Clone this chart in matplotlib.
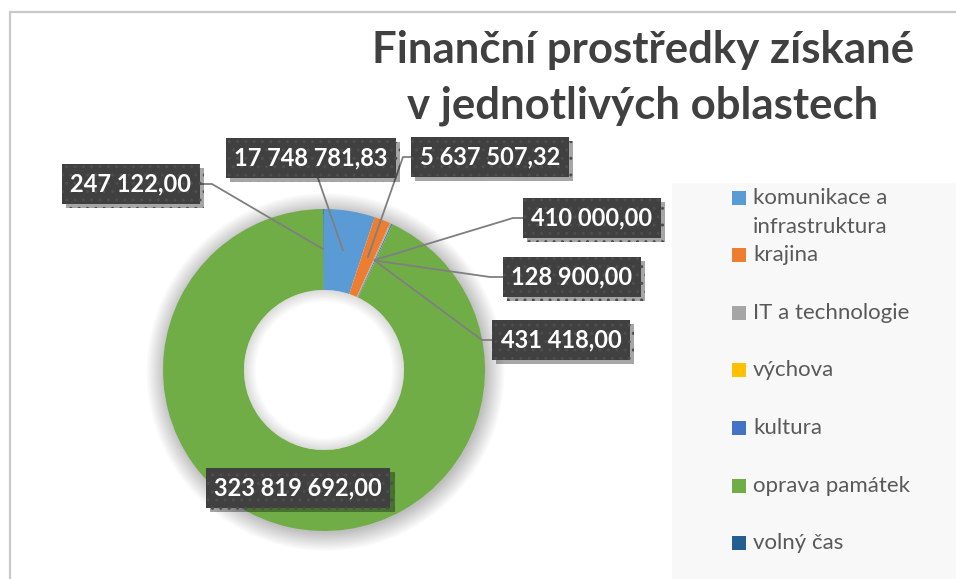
import matplotlib
matplotlib.use("Agg")
import matplotlib.pyplot as plt
import matplotlib.patheffects as pe
from matplotlib.patches import Rectangle, Wedge
import numpy as np

# data
categories = [
    "komunikace a\ninfrastruktura",
    "krajina",
    "IT a technologie",
    "výchova",
    "kultura",
    "oprava památek",
    "volný čas",
]
values = [17748781.83, 5637507.32, 410000.00, 128900.00, 431418.00, 323819692.00, 247122.00]
colors = ["#5B9BD5", "#ED7D31", "#A5A5A5", "#FFC000", "#4472C4", "#70AD47", "#255E91"]
title_lines = ["Finanční prostředky získané", "v jednotlivých oblastech"]

W, H = 956, 579

# label box centres and leader elbow points, in pixels from top-left
label_pos = [(311, 158), (490, 157), (592, 218), (572, 277), (561, 340), (298, 488), (131, 184)]
elbows = [None, (403, 157), (513, 218), (490, 277), (482, 340), "none", (212, 184)]
legend_y = [198, 255, 313, 370, 428, 486, 543]


def fmt(v):
    return f"{v:,.2f}".replace(",", " ").replace(".", ",")


def px(x, y):
    # pixel (top-left origin) -> axes data coords (y up)
    return x, H - y


plt.rcParams["font.family"] = ["Lato", "DejaVu Sans"]

fig = plt.figure(figsize=(W / 100, H / 100), dpi=100)
ax = fig.add_axes([0, 0, 1, 1])

cx, cy = px(324, 370)
r_out, r_in = 161, 80

# chart border and legend background
ax.add_patch(Rectangle((10.5, -10), W, H - 11.5 + 10, fill=False, edgecolor="#c9c9c9", lw=1.6, zorder=0))
ax.add_patch(Rectangle(px(672, H), W - 672, H - 183, facecolor="#f8f8f8", edgecolor="none", zorder=0))

# soft shadow around the ring (outside and inside the hole)
for i in range(16):
    ax.add_patch(Wedge((cx + 1.5, cy - 2), r_out + i * 1.2, 0, 360, width=i * 1.2 + 3,
                       color="black", alpha=0.014, lw=0, zorder=0.5))
for i in range(12):
    ax.add_patch(Wedge((cx, cy), r_in, 0, 360, width=i * 1.0 + 1,
                       color="black", alpha=0.011, lw=0, zorder=0.5))

wedges, _ = ax.pie(values, colors=colors, startangle=90, counterclock=False,
                   radius=r_out, center=(cx, cy),
                   wedgeprops=dict(width=r_out - r_in, linewidth=0))
for w in wedges:
    w.set_zorder(1)

r_mid = (r_out + r_in) / 2
for w, v, (lx, ly), elb in zip(wedges, values, label_pos, elbows):
    mid = np.radians((w.theta1 + w.theta2) / 2)
    ax_, ay_ = cx + r_mid * np.cos(mid), cy + r_mid * np.sin(mid)
    tx, ty = px(lx, ly)
    if elb != "none":
        if elb is None:
            xs, ys = [tx, ax_], [ty, ay_]
        else:
            ex, ey = px(*elb)
            xs, ys = [tx, ex, ax_], [ty, ey, ay_]
        ax.plot(xs, ys, color="#7f7f7f", lw=1.3, zorder=2, solid_capstyle="butt")
    t = ax.text(tx, ty, fmt(v), ha="center", va="center", color="white",
                fontsize=17, fontweight="bold", zorder=3,
                bbox=dict(boxstyle="square,pad=0.36", facecolor="#404040",
                          edgecolor="#4e4e4e", hatch="..", lw=0))
    t.get_bbox_patch().set_path_effects([
        pe.SimplePatchShadow(offset=(3, -3), alpha=0.35, shadow_rgbFace="black"),
        pe.Normal()])

# legend drawn by hand to copy the uneven spacing of the original
for cat, col, y in zip(categories, colors, legend_y):
    mx, my = px(732, y)
    ax.add_patch(Rectangle((mx, my - 7), 14, 14, facecolor=col, lw=0, zorder=2))
    for k, line in enumerate(cat.split("\n")):
        ax.text(mx + 21, my - k * 29, line, ha="left", va="center", fontsize=16,
                color="#595959", zorder=2)

for k, line in enumerate(title_lines):
    tx, ty = px(643, 50 + k * 56)
    ax.text(tx, ty, line, ha="center", va="center", fontsize=31.5, fontweight="bold",
            color="#404040", zorder=2)

ax.set_xlim(0, W)
ax.set_ylim(0, H)
ax.set_aspect("equal")
ax.axis("off")

fig.savefig("out.png", dpi=100)
